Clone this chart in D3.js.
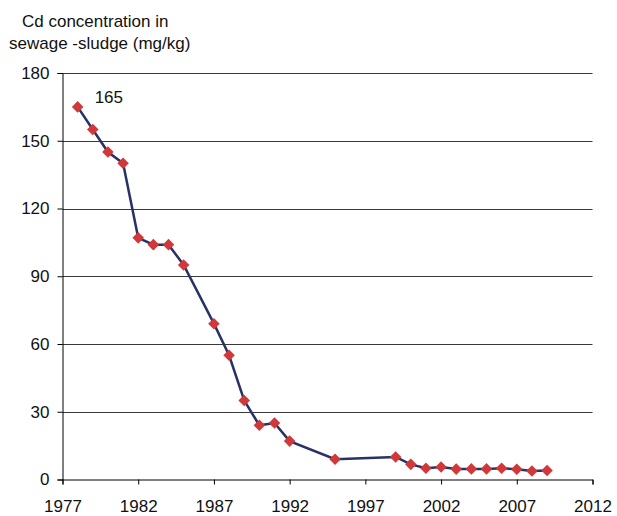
<!DOCTYPE html>
<html><head><meta charset="utf-8">
<script src="https://cdn.jsdelivr.net/npm/d3@7"></script>
<style>body{margin:0;background:#fff}text{font-family:"Liberation Sans",Arial,sans-serif;fill:#111}</style>
</head><body><svg id="c" width="617" height="516"></svg>
<script>
const years = [1978,1979,1980,1981,1982,1983,1984,1985,1987,1988,1989,1990,1991,1992,1995,1999,2000,2001,2002,2003,2004,2005,2006,2007,2008,2009];
const values = [165,155,145,140,107,104,104,95,69,55,35,24,25,17,9,10,6.7,5,5.5,4.6,4.7,4.7,5,4.5,3.8,4];
const xTicks = [1977,1982,1987,1992,1997,2002,2007,2012];
const yTicks = [0,30,60,90,120,150,180];
const titleLines = ["Cd concentration in","sewage -sludge (mg/kg)"];

const FS = 17;
const svg = d3.select("#c");
const x = d3.scaleLinear().domain([1977,2012]).range([62.5,592.5]);
const y = d3.scaleLinear().domain([0,180]).range([479.5,73]);

// grid
svg.append("g").selectAll("line").data(yTicks.filter(d=>d>0)).join("line")
  .attr("x1",x(1977)).attr("x2",x(2012)).attr("y1",d=>Math.round(y(d))+0.5).attr("y2",d=>Math.round(y(d))+0.5)
  .attr("stroke","#3a3a3a").attr("stroke-width",1);

// y axis
const ya = svg.append("g").attr("transform",`translate(${x(1977)},0)`)
  .call(d3.axisLeft(y).tickValues(yTicks).tickSize(5).tickPadding(8).tickFormat(d3.format("d")));
ya.select(".domain").attr("stroke","#000");
ya.selectAll(".tick line").attr("stroke","#000");
ya.selectAll("text").attr("font-size",FS).style("font-family","Liberation Sans, Arial, sans-serif").attr("fill","#111");

// x axis
const xa = svg.append("g").attr("transform",`translate(0,${y(0)})`)
  .call(d3.axisBottom(x).tickValues(xTicks).tickSize(5).tickPadding(15).tickFormat(d3.format("d")));
xa.select(".domain").attr("stroke","#000");
xa.selectAll(".tick line").attr("stroke","#000");
xa.selectAll("text").attr("font-size",FS).style("font-family","Liberation Sans, Arial, sans-serif").attr("fill","#111");

// line
const pts = years.map((d,i)=>[d,values[i]]);
svg.append("path").datum(pts)
  .attr("d",d3.line().x(d=>x(d[0])).y(d=>y(d[1])))
  .attr("fill","none").attr("stroke","#283264").attr("stroke-width",2.5);

// markers
svg.append("g").selectAll("path").data(pts).join("path")
  .attr("d",d3.symbol().type(d3.symbolDiamond2).size(85))
  .attr("transform",d=>`translate(${x(d[0])},${y(d[1])})`)
  .attr("fill","#d0383a");

// label
svg.append("text").attr("x",x(years[0])+17).attr("y",y(values[0])-4).attr("font-size",FS).text(values[0]);

// title
svg.append("text").attr("x",22).attr("y",27).attr("font-size",FS).text(titleLines[0]);
svg.append("text").attr("x",9).attr("y",49).attr("font-size",FS).text(titleLines[1]);
</script></body></html>
